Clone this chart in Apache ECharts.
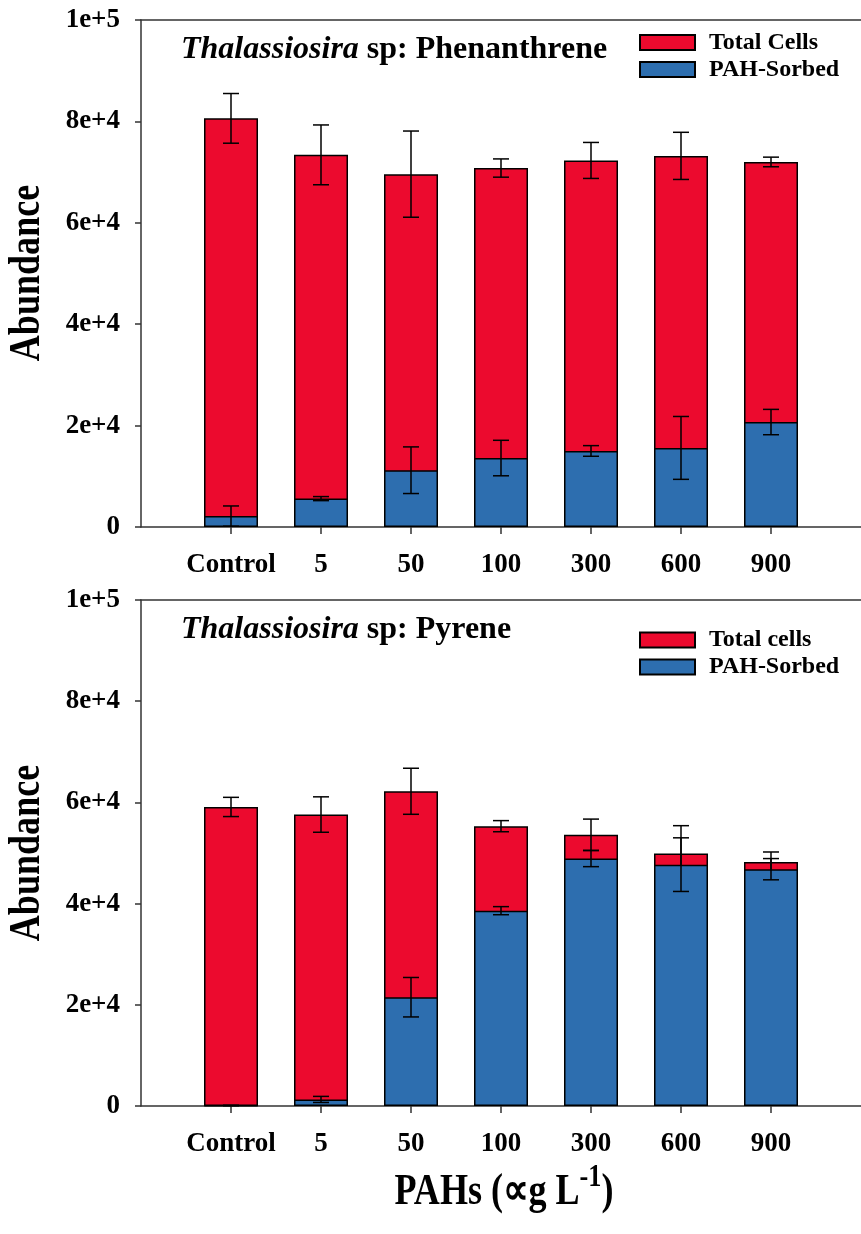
<!DOCTYPE html>
<html>
<head>
<meta charset="utf-8">
<script src="https://cdn.jsdelivr.net/npm/echarts@6/dist/echarts.min.js"></script>
<style>
  html, body { margin: 0; padding: 0; background: #fff; }
  #chart { width: 861px; height: 1234px; }
</style>
</head>
<body>
<div id="chart"></div>
<script>
// PAH concentrations (µg/L) on the x axis
const categories = ['Control', '5', '50', '100', '300', '600', '900'];

// Phenanthrene panel: cell abundance and standard error
const phenTotal      = [80600, 73400, 69600, 70800, 72300, 73200, 72000];
const phenTotalErr   = [4900, 5900, 8500, 1800, 3550, 4650, 950];
const phenSorbed     = [2150, 5600, 11200, 13600, 15000, 15600, 20700];
const phenSorbedErr  = [2000, 400, 4600, 3500, 1050, 6200, 2500];

// Pyrene panel
const pyrTotal       = [59100, 57600, 62200, 55300, 53600, 49900, 48200];
const pyrTotalErr    = [1900, 3500, 4550, 1100, 3100, 5500, 2000];
const pyrSorbed      = [100, 1300, 21500, 38600, 48900, 47700, 46800];
const pyrSorbedErr   = [50, 600, 3900, 800, 1600, 5300, 2100];

const yTicks = [0, 20000, 40000, 60000, 80000, 100000];

const FONT = "'Liberation Serif', 'Times New Roman', serif";
const RED = '#EC0A2E';
const BLUE = '#2D6EAF';

// one empty slot on each side so the seven groups sit at 1..7 of an 8-unit axis
const axisSlots = ['\u2002'].concat(categories, ['\u2003']);
const isGroupSlot = (i) => i >= 1 && i <= categories.length;

const chart = echarts.init(document.getElementById('chart'), null, { renderer: 'canvas' });

function barData(values) {
  return values.map((v, i) => [i + 1, v]);
}
function errData(values, errs) {
  return values.map((v, i) => [i + 1, v, errs[i]]);
}

function errorBarRender(params, api) {
  const x = api.value(0), m = api.value(1), e = api.value(2);
  const hi = api.coord([x, m + e]);
  const lo = api.coord([x, m - e]);
  const cap = 8;
  const style = { stroke: '#000', lineWidth: 1.5 };
  return {
    type: 'group',
    children: [
      { type: 'line', shape: { x1: hi[0], y1: hi[1], x2: lo[0], y2: lo[1] }, style },
      { type: 'line', shape: { x1: hi[0] - cap, y1: hi[1], x2: hi[0] + cap, y2: hi[1] }, style },
      { type: 'line', shape: { x1: lo[0] - cap, y1: lo[1], x2: lo[0] + cap, y2: lo[1] }, style }
    ]
  };
}

const axisLineStyle = { color: '#333', width: 1.5 };

function xAxes(gridIndex) {
  return [
    {
      type: 'category', gridIndex, data: axisSlots, boundaryGap: false,
      axisLine: { show: true, onZero: false, lineStyle: axisLineStyle },
      axisTick: { show: true, inside: false, length: 7, interval: (i) => isGroupSlot(i), lineStyle: axisLineStyle },
      axisLabel: {
        show: true, interval: 0, margin: 25,
        fontFamily: FONT, fontWeight: 'bold', fontSize: 27, color: '#000'
      },
      splitLine: { show: false }
    },
    {
      type: 'category', gridIndex, data: axisSlots, boundaryGap: false, position: 'top',
      axisLine: { show: true, onZero: false, lineStyle: axisLineStyle },
      axisTick: { show: false }, axisLabel: { show: false }, splitLine: { show: false }
    }
  ];
}

function yAxis(gridIndex) {
  return {
    type: 'value', gridIndex, min: 0, max: yTicks[yTicks.length - 1], interval: yTicks[1] - yTicks[0],
    axisLine: { show: true, onZero: false, lineStyle: axisLineStyle },
    axisTick: { show: true, inside: false, length: 6, lineStyle: axisLineStyle },
    axisLabel: {
      show: true, margin: 21, fontFamily: FONT, fontWeight: 'bold', fontSize: 27, color: '#000',
      formatter: (v) => v === 0 ? '0' : v.toExponential(0)
    },
    splitLine: { show: false }
  };
}

function panelSeries(xIdx, yIdx, totalName, total, totalErr, sorbed, sorbedErr) {
  const barBorder = { borderColor: '#000', borderWidth: 1.5 };
  return [
    {
      name: totalName, type: 'bar', xAxisIndex: xIdx, yAxisIndex: yIdx,
      data: barData(total), barWidth: 54, barGap: '-100%', z: 2,
      itemStyle: Object.assign({ color: RED }, barBorder),
      emphasis: { disabled: true }
    },
    {
      type: 'custom', xAxisIndex: xIdx, yAxisIndex: yIdx, z: 3,
      data: errData(total, totalErr), renderItem: errorBarRender, silent: true
    },
    {
      name: 'PAH-Sorbed', type: 'bar', xAxisIndex: xIdx, yAxisIndex: yIdx,
      data: barData(sorbed), barWidth: 54, barGap: '-100%', z: 4,
      itemStyle: Object.assign({ color: BLUE }, barBorder),
      emphasis: { disabled: true }
    },
    {
      type: 'custom', xAxisIndex: xIdx, yAxisIndex: yIdx, z: 5,
      data: errData(sorbed, sorbedErr), renderItem: errorBarRender, silent: true
    }
  ];
}

function legend(top, totalName) {
  return {
    data: [totalName, 'PAH-Sorbed'],
    orient: 'vertical', left: 639, top, padding: 0,
    itemWidth: 55, itemHeight: 15, itemGap: 3, icon: 'rect',
    selectedMode: false,
    textStyle: { fontFamily: FONT, fontWeight: 'bold', fontSize: 24, color: '#000', padding: [0, 0, 0, 9], lineHeight: 24 }
  };
}

function panelTitle(top, compound) {
  return {
    text: '{i|Thalassiosira}{b| sp: ' + compound + '}',
    left: 181, top, padding: 0,
    textStyle: {
      rich: {
        i: { fontFamily: FONT, fontWeight: 'bold', fontStyle: 'italic', fontSize: 32, color: '#000' },
        b: { fontFamily: FONT, fontWeight: 'bold', fontSize: 32, color: '#000' }
      }
    }
  };
}

const option = {
  backgroundColor: '#fff',
  animation: false,
  title: [panelTitle(34, 'Phenanthrene'), panelTitle(614, 'Pyrene')],
  legend: [legend(30.5, 'Total Cells'), legend(628, 'Total cells')],
  grid: [
    { left: 141, top: 20, width: 720, height: 507, containLabel: false, outerBoundsMode: 'none' },
    { left: 141, top: 600, width: 720, height: 506, containLabel: false, outerBoundsMode: 'none' }
  ],
  xAxis: xAxes(0).concat(xAxes(1)),
  yAxis: [yAxis(0), yAxis(1)],
  series: panelSeries(0, 0, 'Total Cells', phenTotal, phenTotalErr, phenSorbed, phenSorbedErr)
    .concat(panelSeries(2, 1, 'Total cells', pyrTotal, pyrTotalErr, pyrSorbed, pyrSorbedErr)),
  graphic: [
    {
      type: 'text', x: 28, y: 273, rotation: Math.PI / 2, scaleX: 0.82,
      style: { text: 'Abundance', fontFamily: FONT, fontWeight: 'bold', fontSize: 44, fill: '#000', align: 'center', verticalAlign: 'middle' }
    },
    {
      type: 'text', x: 28, y: 853, rotation: Math.PI / 2, scaleX: 0.82,
      style: { text: 'Abundance', fontFamily: FONT, fontWeight: 'bold', fontSize: 44, fill: '#000', align: 'center', verticalAlign: 'middle' }
    },
    {
      type: 'text', x: 504, y: 1193, scaleX: 0.82,
      style: {
        text: '{a|PAHs (\u221Dg L}{s|-1}{a|)}',
        align: 'center', verticalAlign: 'middle',
        rich: {
          a: { fontFamily: FONT, fontWeight: 'bold', fontSize: 44, fill: '#000' },
          s: { fontFamily: FONT, fontWeight: 'bold', fontSize: 32, fill: '#000', padding: [0, 0, 30, 0] }
        }
      }
    }
  ]
};

chart.setOption(option);
</script>
</body>
</html>
